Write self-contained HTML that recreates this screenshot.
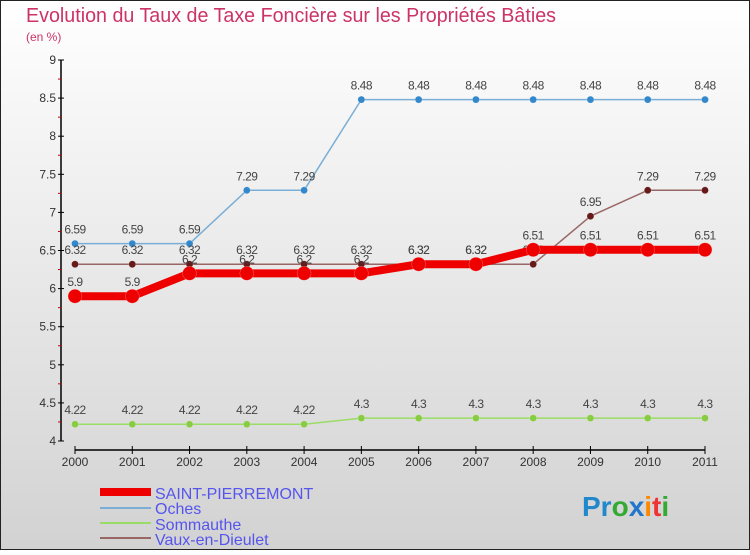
<!DOCTYPE html>
<html><head><meta charset="utf-8"><style>
body{margin:0}
#c{width:750px;height:550px;position:relative;font-family:"Liberation Sans",sans-serif;}
</style></head><body>
<div id="c">
<svg id="s" width="750" height="550" xmlns="http://www.w3.org/2000/svg">
<defs><linearGradient id="bg" x1="0" y1="0" x2="0" y2="1"><stop offset="0" stop-color="#ffffff"/><stop offset="1" stop-color="#d2d2d2"/></linearGradient></defs>
<rect x="0.5" y="0.5" width="749" height="549" fill="url(#bg)" stroke="#222"/>
<text x="26" y="22" font-size="20" fill="#cc3366" textLength="530" lengthAdjust="spacingAndGlyphs">Evolution du Taux de Taxe Foncière sur les Propriétés Bâties</text>
<text x="26" y="41" font-size="12" fill="#cc3366">(en %)</text>
<g id="axes"></g><g id="series"></g>
<g>
<rect x="100" y="488" width="51" height="8" fill="#ee0000"/>
<text x="155" y="499" font-size="16" fill="#5555ee">SAINT-PIERREMONT</text>
<line x1="100" y1="508" x2="151" y2="508" stroke="#7aaed6" stroke-width="2"/>
<text x="155" y="514" font-size="16" fill="#5555ee">Oches</text>
<line x1="100" y1="523" x2="151" y2="523" stroke="#99dd66" stroke-width="2"/>
<text x="155" y="530" font-size="16" fill="#5555ee">Sommauthe</text>
<line x1="100" y1="538" x2="151" y2="538" stroke="#996666" stroke-width="2"/>
<text x="155" y="545" font-size="16" fill="#5555ee">Vaux-en-Dieulet</text>
</g>
<text x="582" y="516" font-size="28" font-weight="bold"><tspan fill="#2288cc">Pr</tspan><tspan fill="#33aa33">o</tspan><tspan fill="#2277cc">x</tspan><tspan fill="#ff8800">i</tspan><tspan fill="#ee3333">t</tspan><tspan fill="#33aa33">i</tspan></text>
</svg></div>
<script>
const years=[2000,2001,2002,2003,2004,2005,2006,2007,2008,2009,2010,2011];
const yTicks=[4,4.5,5,5.5,6,6.5,7,7.5,8,8.5,9];
const saint=[5.9,5.9,6.2,6.2,6.2,6.2,6.32,6.32,6.51,6.51,6.51,6.51];
const oches=[6.59,6.59,6.59,7.29,7.29,8.48,8.48,8.48,8.48,8.48,8.48,8.48];
const sommauthe=[4.22,4.22,4.22,4.22,4.22,4.3,4.3,4.3,4.3,4.3,4.3,4.3];
const vaux=[6.32,6.32,6.32,6.32,6.32,6.32,6.32,6.32,6.32,6.95,7.29,7.29];
const NS="http://www.w3.org/2000/svg";
function X(i){return 75+i*(705-75)/(years.length-1);}
function Y(v){return 441-(v-4)*(441-60)/5;}
function el(t,a,p){const e=document.createElementNS(NS,t);for(const k in a)e.setAttribute(k,a[k]);p.appendChild(e);return e;}
const ax=document.getElementById('axes');
let l=el('line',{x1:61,y1:60,x2:61,y2:441,stroke:'#000','stroke-width':1.5},ax);


l=el('line',{x1:75,y1:450,x2:705,y2:450,stroke:'#000','stroke-width':1.5},ax);


yTicks.forEach((v,i)=>{
 el('line',{x1:58,y1:Y(v),x2:64,y2:Y(v),stroke:'#000'},ax);
 if(i<yTicks.length-1)el('line',{x1:58,y1:Y(v+0.25),x2:61,y2:Y(v+0.25),stroke:'#cc0000'},ax);
 const t=el('text',{x:56,y:Y(v)+4,'font-size':12,fill:'#333','text-anchor':'end'},ax);
 t.textContent=String(v);
 
 
});
years.forEach((y,i)=>{
 el('line',{x1:X(i),y1:446,x2:X(i),y2:454,stroke:'#000'},ax);
 const t=el('text',{x:X(i),y:466,'font-size':12,fill:'#333','text-anchor':'middle'},ax);
 t.textContent=String(y);
 
 
});
const sg=document.getElementById('series');
function draw(vals,name,color,w,r,dot){
 const g=el('g',{},sg);
 
 
 el('polyline',{points:vals.map((v,i)=>X(i)+','+Y(v)).join(' '),fill:'none',stroke:color,'stroke-width':w,'stroke-linejoin':'round'},g);
 vals.forEach((v,i)=>{
  const c=el('circle',{cx:X(i),cy:Y(v),r:r,fill:dot,stroke:'rgba(255,255,255,0.4)','stroke-width':0.5},g);
  
  
  const t=el('text',{x:X(i),y:Y(v)-10,'font-size':12,fill:'#444','text-anchor':'middle','letter-spacing':'-0.5'},g);
  t.textContent=String(v);
  
  
 });
}
draw(oches,'oches','#7aaed6',1.5,3.5,'#3388cc');
draw(sommauthe,'sommauthe','#99dd66',1.5,3.5,'#88cc44');
draw(vaux,'vaux-en-dieulet','#996666',1.5,3.5,'#661a1a');
draw(saint,'saint-pierremont','#ee0000',8,7,'#ee0000');
</script>
</body></html>
